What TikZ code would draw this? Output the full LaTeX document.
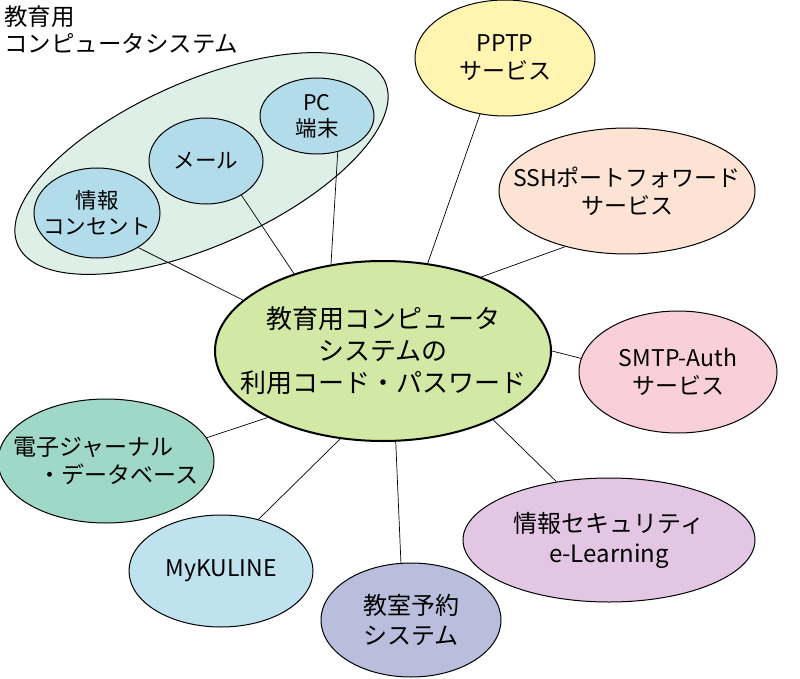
\documentclass[tikz,border=0pt]{standalone}
\usepackage{fontspec}
\setmainfont{Noto Sans CJK JP}
\usetikzlibrary{shapes.geometric}
\begin{document}
\begin{tikzpicture}[
        x                       = 1pt,
        y                       = -1pt,
        bubble/.style           = {ellipse, draw, line width=1pt, inner sep=0pt},
        txt/.style              = {align=center, inner sep=0pt, font=\fontsize{23}{28}\selectfont},
        smalltxt/.style         = {txt, font=\fontsize{21.5}{26}\selectfont},
        inner/.style            = {bubble, fill=innerblue},
        link/.style             = {draw, line width=0.7pt},
      ]
        \definecolor{groupfill}{HTML}{DDEFE7}
        \definecolor{innerblue}{HTML}{B3DCEB}
        \definecolor{centerfill}{HTML}{D2E8A5}
        \useasboundingbox (0,0) rectangle (800,679);
        % group of the computer system
        \node[bubble, fill=groupfill, rotate=24,
              minimum width=402pt, minimum height=164pt] (grp) at (201.5,163.5) {};
        \node[anchor=north west, align=left, inner sep=0pt,
              font=\fontsize{23.5}{27}\selectfont] (title) at (4,6) {教育用\\コンピュータシステム};
        \node[inner, minimum width=126pt, minimum height=90pt,
              label={[smalltxt]center:{情報\\コンセント}}] (outlet) at (97,213) {};
        \node[inner, minimum width=114pt, minimum height=86pt,
              label={[smalltxt]center:メール}] (mail) at (206,161) {};
        \node[inner, minimum width=114pt, minimum height=76pt,
              label={[smalltxt]center:{PC\\端末}}] (pc) at (317,116) {};
        % centre
        \node[bubble, fill=centerfill, line width=2pt, minimum width=336pt, minimum height=180pt,
              label={[txt, font=\fontsize{26}{32}\selectfont]center:{教育用コンピュータ\\システムの\\利用コード・パスワード}}] (code) at (383,351) {};
        % services round it
        \node[bubble, fill={rgb,255:red,255;green,244;blue,176}, minimum width=180pt, minimum height=116pt,
              label={[txt]center:{PPTP\\サービス}}] (pptp) at (505,58) {};
        \node[bubble, fill={rgb,255:red,252;green,227;blue,212}, minimum width=256pt, minimum height=126pt,
              label={[txt]center:{SSHポートフォワード\\サービス}}] (ssh) at (627,191) {};
        \node[bubble, fill={rgb,255:red,249;green,208;blue,217}, minimum width=198pt, minimum height=122pt,
              label={[txt]center:{SMTP-Auth\\サービス}}] (smtp) at (678,372) {};
        \node[bubble, fill={rgb,255:red,226;green,198;blue,227}, minimum width=292pt, minimum height=124pt,
              label={[txt, font=\fontsize{24}{30}\selectfont]center:{情報セキュリティ\\e-Learning}}] (secu) at (609,540) {};
        \node[bubble, fill={rgb,255:red,185;green,190;blue,221}, minimum width=180pt, minimum height=114pt,
              label={[txt, font=\fontsize{24}{30}\selectfont]center:{教室予約\\システム}}] (room) at (411,620) {};
        \node[bubble, fill={rgb,255:red,191;green,226;blue,239}, minimum width=184pt, minimum height=112pt,
              label={[txt]center:MyKULINE}] (kuline) at (221,571) {};
        \node[bubble, fill={rgb,255:red,159;green,216;blue,198}, minimum width=216pt, minimum height=124pt,
              label={[txt, align=left]center:{電子ジャーナル\\\hspace*{1.1em}・データベース}}] (journal) at (106,461) {};
        % connectors
        \draw[link] (outlet.320) -- (code.160);
        \draw[link] (mail.316) -- (code.139);
        \draw[link] (pc.300) -- (code.121);
        \draw[link] (pptp.246) -- (code.63);
        \draw[link] (ssh.222) -- (code.37);
        \draw[link] (smtp.172) -- (code.0);
        \draw[link] (journal.13) -- (code.210);
        \draw[link] (kuline.54) -- (code.244);
        \draw[link] (room.100) -- (code.278);
        \draw[link] (secu.132) -- (code.328);
    \end{tikzpicture}
\end{document}
